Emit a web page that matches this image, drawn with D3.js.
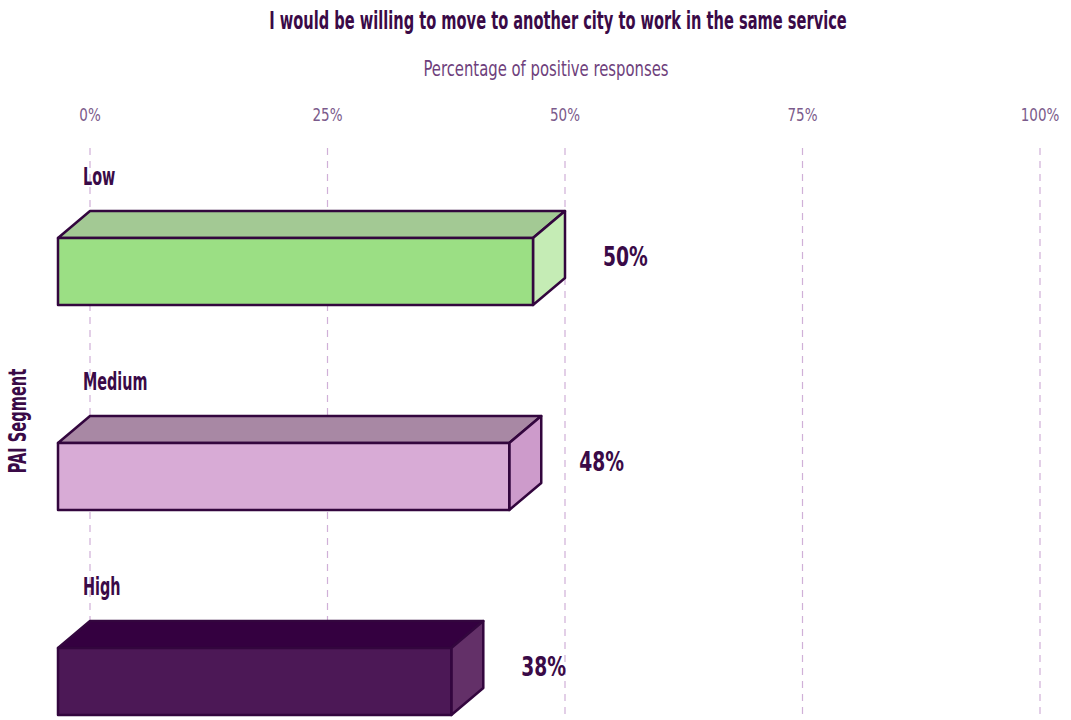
<!DOCTYPE html>
<html><head><meta charset="utf-8">
<script src="https://cdn.jsdelivr.net/npm/d3@7"></script>
<style>
body{margin:0;background:#fff;}
text{font-family:'DejaVu Sans Condensed','DejaVu Sans',sans-serif;}
</style></head>
<body><svg id="c" width="1071" height="720"></svg>
<script>
const categories = ["Low", "Medium", "High"];
const barValues = [50, 47.5, 41.4];
const valueLabels = ["50%", "48%", "38%"];
const tickValues = [0, 25, 50, 75, 100];
const tickLabels = ["0%", "25%", "50%", "75%", "100%"];
const frontColors = ["#9bdf84", "#d8abd6", "#4c1856"];
const topColors = ["#a3c994", "#a888a4", "#340040"];
const sideColors = ["#c5ecb5", "#cd9bcb", "#633068"];

const title = "I would be willing to move to another city to work in the same service";
const subtitle = "Percentage of positive responses";
const yTitle = "PAI Segment";

const svg = d3.select("#c");
const dark = "#3a0a47";
const x = d3.scaleLinear().domain([0, 100]).range([90, 1040]);
const y = d3.scaleBand().domain(categories).range([238, 238 + 205 * 3]);
const barH = 67, dx = 32, dy = 27;

// condensed text helper
function label(parent, px, py, txt, o) {
  const g = parent.append("g")
    .attr("transform", `translate(${px},${py})${o.rotate ? " rotate(" + o.rotate + ")" : ""} scale(${o.k},1)`);
  return g.append("text").attr("x", 0).attr("y", 0)
    .attr("text-anchor", o.anchor || "start")
    .attr("font-size", o.size).attr("font-weight", o.weight || "normal")
    .attr("fill", o.fill).text(txt);
}

label(svg, 558, 29, title, {size: 25, k: 0.65, weight: "bold", fill: dark, anchor: "middle"});
label(svg, 546, 76, subtitle, {size: 22, k: 0.75, fill: "#6e3f7c", anchor: "middle"});

// grid
const grid = svg.append("g");
grid.selectAll("line").data(tickValues).join("line")
  .attr("x1", d => x(d)).attr("x2", d => x(d)).attr("y1", 148).attr("y2", 720)
  .attr("stroke", "#d0b0d8").attr("stroke-width", 1.2).attr("stroke-dasharray", "7,6");
tickValues.forEach((d, i) => label(grid, x(d), 121, tickLabels[i], {size: 18.5, k: 0.81, fill: "#7b5b8b", anchor: "middle"}));

label(svg, 26, 421, yTitle, {size: 25, k: 0.65, weight: "bold", fill: dark, anchor: "middle", rotate: -90});

const g = svg.append("g").selectAll("g").data(categories).join("g");
g.each(function(c, i) {
  const s = d3.select(this);
  const top = y(c);
  const x0 = x(0), x1 = x(barValues[i]);
  const poly = (pts, fill) => s.append("path").attr("d", d3.line()(pts) + "Z").attr("fill", fill)
    .attr("stroke", "#33063e").attr("stroke-width", 2.5).attr("stroke-linejoin", "round");
  poly([[x0 - dx, top], [x0, top - dy], [x1, top - dy], [x1 - dx, top]], topColors[i]);
  poly([[x1 - dx, top], [x1, top - dy], [x1, top - dy + barH], [x1 - dx, top + barH]], sideColors[i]);
  poly([[x0 - dx, top], [x1 - dx, top], [x1 - dx, top + barH], [x0 - dx, top + barH]], frontColors[i]);
  label(s, x0 - 7, top - 53, c, {size: 25, k: 0.64, weight: "bold", fill: dark});
  label(s, x1 + 38, top + 28, valueLabels[i], {size: 26, k: 0.8, weight: "bold", fill: dark});
});
</script></body></html>
